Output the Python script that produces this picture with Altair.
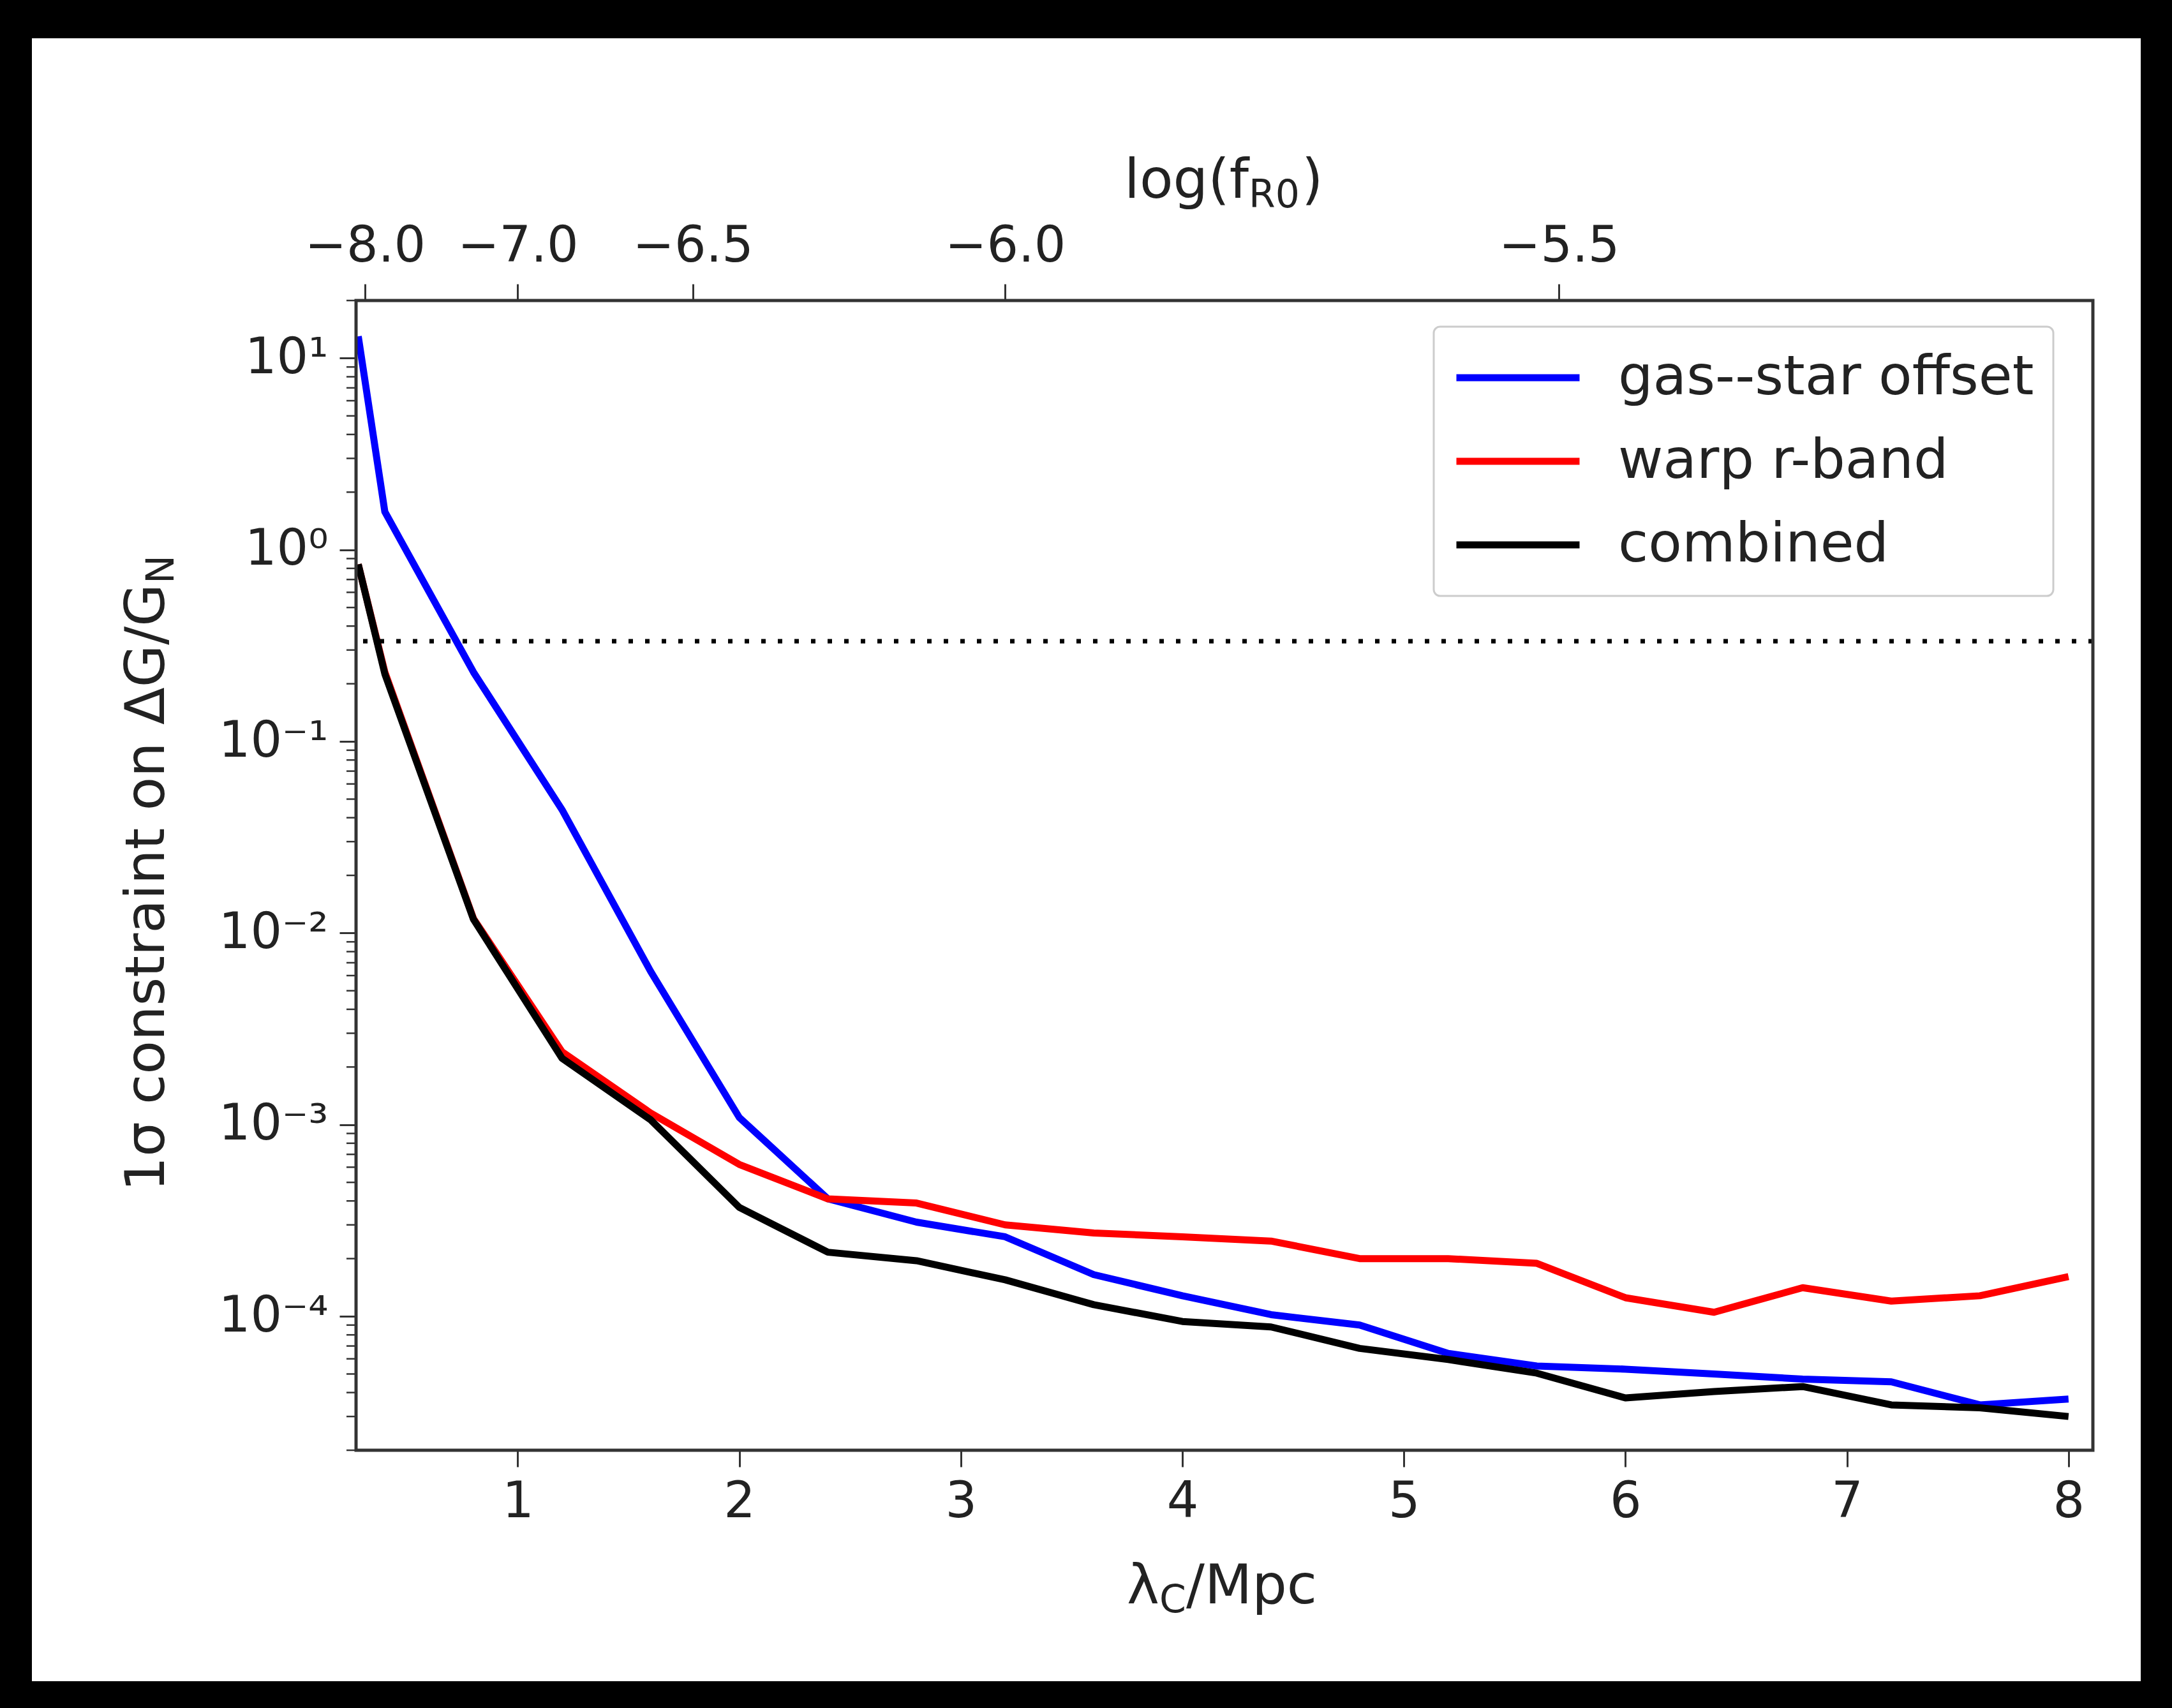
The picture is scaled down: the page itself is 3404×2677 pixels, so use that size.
import json
import altair as alt
import pandas as pd

# ---------------- data ----------------
lam = [0.28, 0.4, 0.8, 1.2, 1.6, 2.0, 2.4, 2.8, 3.2, 3.6, 4.0, 4.4, 4.8, 5.2, 5.6,
       6.0, 6.4, 6.8, 7.2, 7.6, 8.0]
gas_star = [13.0, 1.58, 0.23, 0.044, 0.0063, 0.00109, 4.1e-4, 3.1e-4, 2.6e-4, 1.65e-4,
            1.28e-4, 1.02e-4, 9.0e-5, 6.4e-5, 5.5e-5, 5.3e-5, 5.0e-5, 4.7e-5, 4.55e-5,
            3.45e-5, 3.7e-5]
warp_r = [0.84, 0.23, 0.0119, 0.0024, 0.00115, 6.2e-4, 4.1e-4, 3.9e-4, 3.0e-4, 2.72e-4,
          2.6e-4, 2.47e-4, 2.0e-4, 2.0e-4, 1.89e-4, 1.25e-4, 1.05e-4, 1.41e-4, 1.2e-4,
          1.28e-4, 1.61e-4]
combined = [0.84, 0.225, 0.0118, 0.00222, 0.00106, 3.7e-4, 2.16e-4, 1.95e-4, 1.55e-4,
            1.15e-4, 9.4e-5, 8.8e-5, 6.8e-5, 5.95e-5, 5.05e-5, 3.75e-5, 4.05e-5, 4.3e-5,
            3.45e-5, 3.33e-5, 3.0e-5]

series_names = ["gas--star offset", "warp r-band", "combined"]
series_colors = ["#0000ff", "#ff0000", "#000000"]

threshold = [1.0 / 3.0]

x_domain = [0.27, 8.11]
y_domain = [2e-5, 20]

bottom_ticks = [1, 2, 3, 4, 5, 6, 7, 8]
y_ticks = [1e-4, 1e-3, 1e-2, 1e-1, 1, 10]
y_tick_labels = ["10⁻⁴", "10⁻³", "10⁻²", "10⁻¹", "10⁰", "10¹"]
top_tick_pos = [0.31, 1.0, 1.79, 3.20, 5.70]
top_tick_labels = ["−8.0", "−7.0", "−6.5", "−6.0", "−5.5"]
minor_ticks = [k * 10.0 ** e for e in range(-5, 2) for k in range(2, 10)
               if y_domain[0] <= k * 10.0 ** e <= y_domain[1]]

# ---------------- layout ----------------
W, H = 2722, 1802
FONT = "DejaVu Sans"
TXT = "#222222"
AX = "#333333"

rows = []
for name, vals in zip(series_names, [gas_star, warp_r, combined]):
    for x, v in zip(lam, vals):
        rows.append({"lam": x, "v": v, "series": name})
df = pd.DataFrame(rows)
one = pd.DataFrame({"a": [0]})

xscale = alt.Scale(domain=x_domain, zero=False, nice=False)
yscale = alt.Scale(type="log", domain=y_domain, nice=False)
cscale = alt.Scale(domain=series_names, range=series_colors)

y_label_expr = "%s[round(log(datum.value)/LN10)+4]" % json.dumps(y_tick_labels, ensure_ascii=False)
yaxis = alt.Axis(orient="left", values=y_ticks, labelExpr=y_label_expr, title=None,
                 labelPadding=18, tickSize=26, labelOverlap=False, zindex=2)

top_expr = "'%s'" % top_tick_labels[-1]
for i in range(len(top_tick_pos) - 2, -1, -1):
    mid = (top_tick_pos[i] + top_tick_pos[i + 1]) / 2
    top_expr = "datum.value < %g ? '%s' : (%s)" % (mid, top_tick_labels[i], top_expr)

bottom_axis = alt.Axis(orient="bottom", values=bottom_ticks, format="d", title=None,
                       labelPadding=16, tickSize=26, labelFlush=False, labelOverlap=False,
                       zindex=2)
top_axis = alt.Axis(orient="top", values=top_tick_pos, labelExpr=top_expr, title=None,
                    labelPadding=20, tickSize=26, labelFlush=False, labelOverlap=False,
                    zindex=2)

legend = alt.Legend(orient="none", legendX=1689, legendY=41, title=None,
                    symbolType="stroke", symbolStrokeWidth=11, symbolSize=37249,
                    labelFontSize=86, labelFont=FONT, labelColor=TXT, padding=30,
                    rowPadding=31, clipHeight=100, labelOffset=55, fillColor="white",
                    strokeColor="#cccccc", cornerRadius=10, labelLimit=2000)

Y = alt.Y("v:Q", scale=yscale, axis=yaxis)

bg = alt.Chart(one).mark_rect(color="white").encode(
    x=alt.value(-508), x2=alt.value(2797), y=alt.value(-411), y2=alt.value(2164))


def series_layer(i):
    return alt.Chart(df).transform_filter(
        alt.datum.series == series_names[i]
    ).mark_line(strokeWidth=11, clip=True, strokeJoin="round").encode(
        x=alt.X("lam:Q", scale=xscale, axis=bottom_axis if i == 0 else None),
        y=Y,
        color=alt.Color("series:N", scale=cscale, legend=legend),
    )


dotted = alt.Chart(pd.DataFrame({"v": threshold})).mark_rule(
    color="black", strokeWidth=7, strokeDash=[7, 19]).encode(y=Y)

minor = alt.Chart(pd.DataFrame({"v": minor_ticks})).mark_rule(
    color=AX, strokeWidth=2.5).encode(y=Y, x=alt.value(-15), x2=alt.value(0))

top = alt.Chart(pd.DataFrame({"lam": top_tick_pos})).mark_point(opacity=0).encode(
    x=alt.X("lam:Q", scale=xscale, axis=top_axis))

frame = alt.Chart(one).mark_rect(filled=False, stroke=AX, strokeWidth=5).encode(
    x=alt.value(0), x2=alt.value(W), y=alt.value(0), y2=alt.value(H))


def txt(s, x, y, size, align, angle=0, dy=0):
    return alt.Chart(one).mark_text(text=s, align=align, baseline="alphabetic",
                                    fontSize=size, font=FONT, color=TXT,
                                    angle=angle, dy=dy).encode(
        x=alt.value(x), y=alt.value(y))


titles = [
    txt("1σ constraint on ΔG/G", -301, 444, 86, "right", angle=270),
    txt("N", -301, 444, 60, "left", angle=270, dy=15),
    txt("λ", 1259, 2042, 86, "right"),
    txt("C", 1259, 2042, 60, "left", dy=14),
    txt("/Mpc", 1301, 2042, 86, "left"),
    txt("log(f", 1399, -161, 86, "right"),
    txt("R0", 1399, -161, 60, "left", dy=15),
    txt(")", 1482, -161, 86, "left"),
]

chart = alt.layer(
    bg, series_layer(0), series_layer(1), series_layer(2), dotted, minor, top, frame, *titles
).resolve_axis(x="independent").properties(
    width=W, height=H,
    autosize=alt.AutoSizeParams(type="none"),
    padding={"left": 558, "top": 471, "right": 124, "bottom": 404},
    background="black",
).configure_view(stroke=None).configure_axis(
    labelFont=FONT, labelFontSize=78, labelColor=TXT, tickColor=AX, tickWidth=3,
    domain=False, grid=False, labelLimit=1000,
).configure_legend(strokeWidth=3)

chart.save("out.html", embed_options={"renderer": "svg", "actions": False})
